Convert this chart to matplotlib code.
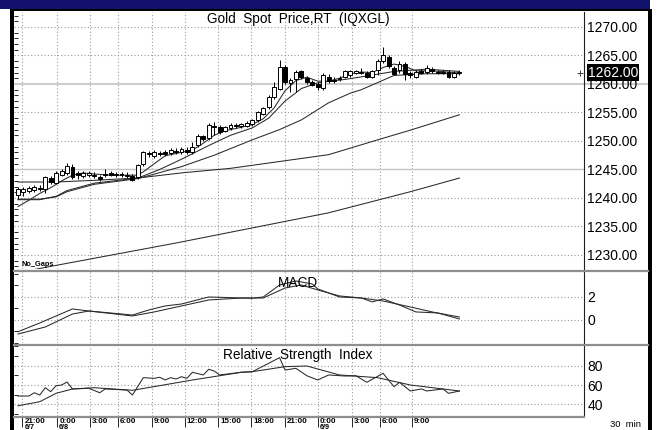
import matplotlib
matplotlib.use('Agg')
import matplotlib.pyplot as plt
from matplotlib.patches import Rectangle
from matplotlib.lines import Line2D
from matplotlib.ticker import MultipleLocator
import numpy as np

W, H = 659, 430
plt.rcParams['font.family'] = ['Liberation Sans', 'DejaVu Sans']

# ---------------- data ----------------
opens = [1240.6, 1241.0, 1241.2, 1241.4, 1241.8, 1241.5, 1243.5, 1242.7, 1244.1, 1244.4,
         1245.5, 1244.3, 1243.9, 1244.0, 1244.1, 1243.7, 1244.0, 1244.3, 1244.0, 1244.2,
         1243.9, 1243.9, 1243.7, 1245.9, 1247.9, 1247.3, 1247.9, 1248.0, 1247.9, 1248.3,
         1248.0, 1248.5, 1248.1, 1249.3, 1250.8, 1250.5, 1252.7, 1252.4, 1251.8, 1252.3,
         1252.8, 1252.6, 1252.7, 1252.9, 1253.6, 1254.8, 1255.9, 1257.7, 1259.2, 1263.0,
         1260.1, 1260.9, 1262.2, 1261.0, 1260.3, 1260.0, 1259.3, 1261.3, 1260.6, 1260.8,
         1261.3, 1261.6, 1262.0, 1262.0, 1262.0, 1261.3, 1262.4, 1264.0, 1264.8, 1262.8,
         1262.4, 1263.5, 1262.0, 1261.3, 1262.3, 1262.1, 1262.6, 1262.1, 1262.0, 1262.1,
         1261.3, 1261.9]
highs = [1242.0, 1241.9, 1242.1, 1242.3, 1242.2, 1243.9, 1243.9, 1244.7, 1245.0, 1246.2,
         1245.9, 1244.7, 1244.8, 1244.7, 1244.5, 1244.1, 1245.1, 1244.7, 1244.6, 1244.6,
         1244.5, 1244.2, 1246.0, 1248.3, 1248.2, 1248.4, 1248.3, 1248.4, 1248.8, 1248.7,
         1248.9, 1248.9, 1249.8, 1251.2, 1251.1, 1253.2, 1253.3, 1252.8, 1252.7, 1253.1,
         1253.1, 1253.2, 1253.5, 1253.9, 1255.3, 1256.0, 1258.1, 1260.3, 1264.2, 1263.4,
         1261.0, 1262.4, 1262.5, 1261.4, 1260.7, 1260.4, 1261.9, 1261.7, 1261.2, 1261.4,
         1262.5, 1262.5, 1262.5, 1262.8, 1262.3, 1262.5, 1264.4, 1266.5, 1265.1, 1263.1,
         1264.0, 1263.8, 1262.3, 1262.4, 1262.6, 1263.3, 1263.0, 1262.4, 1262.5, 1262.4,
         1262.2, 1262.4]
lows = [1239.8, 1240.4, 1240.8, 1241.0, 1241.2, 1240.9, 1242.5, 1242.4, 1243.8, 1244.1,
        1243.3, 1243.4, 1243.5, 1243.6, 1243.5, 1243.0, 1243.6, 1243.8, 1243.6, 1243.7,
        1243.5, 1242.9, 1243.3, 1245.6, 1247.2, 1247.0, 1247.3, 1247.4, 1247.6, 1247.8,
        1247.7, 1247.8, 1247.8, 1249.0, 1250.0, 1250.2, 1251.1, 1251.3, 1251.5, 1252.0,
        1252.3, 1252.3, 1252.4, 1252.6, 1253.3, 1254.5, 1255.6, 1257.4, 1258.9, 1260.0,
        1258.6, 1258.6, 1260.9, 1260.0, 1259.6, 1259.0, 1259.0, 1260.2, 1260.2, 1260.5,
        1261.0, 1261.3, 1261.7, 1261.7, 1261.0, 1261.0, 1261.5, 1263.7, 1262.8, 1261.5,
        1262.0, 1260.7, 1261.0, 1261.0, 1261.7, 1261.8, 1261.9, 1261.7, 1261.7, 1261.0,
        1261.0, 1261.6]
closes = [1241.5, 1241.6, 1241.8, 1242.0, 1241.5, 1243.6, 1242.8, 1244.4, 1244.7, 1245.6,
          1243.6, 1244.1, 1244.3, 1244.3, 1243.8, 1243.3, 1244.2, 1244.1, 1244.2, 1244.0,
          1244.0, 1243.2, 1245.7, 1248.0, 1247.7, 1248.0, 1247.7, 1247.7, 1248.4, 1248.1,
          1248.6, 1248.1, 1249.0, 1250.8, 1250.3, 1252.8, 1252.5, 1251.6, 1252.4, 1252.8,
          1252.6, 1252.9, 1253.2, 1253.6, 1255.0, 1255.7, 1257.8, 1259.5, 1263.0, 1260.3,
          1260.7, 1262.1, 1261.2, 1260.3, 1259.9, 1259.4, 1261.6, 1260.5, 1260.7, 1261.1,
          1262.2, 1262.2, 1262.2, 1262.1, 1261.3, 1262.2, 1264.1, 1265.0, 1263.1, 1261.8,
          1263.5, 1261.8, 1261.5, 1262.1, 1262.0, 1262.8, 1262.2, 1262.0, 1262.1, 1261.2,
          1261.9, 1262.0]

# moving averages: (bar index, price)
ma1_x = [0, 2, 4, 6, 8, 10, 12, 14, 17, 20, 22, 23, 25, 27, 30, 32, 34, 36, 38, 41, 43, 45, 47,
         49, 51, 53, 55, 57, 59, 61, 63, 65, 67, 69, 71, 73, 76, 79, 81]
ma1_y = [1238.5, 1239.6, 1240.8, 1241.8, 1243.0, 1244.0, 1244.4, 1244.2, 1244.0, 1244.0, 1244.0,
         1244.6, 1246.0, 1247.4, 1248.0, 1248.4, 1249.6, 1251.0, 1251.8, 1252.4, 1252.9, 1253.9,
         1255.8, 1258.8, 1260.6, 1261.2, 1260.5, 1260.5, 1261.0, 1261.8, 1262.1, 1262.0, 1262.9,
         1263.5, 1263.1, 1262.3, 1262.3, 1262.1, 1261.9]
ma2_x = [0, 4, 7, 9, 14, 22, 26, 30, 35, 39, 43, 46, 49, 52, 55, 60, 64, 69, 75, 81]
ma2_y = [1239.7, 1239.7, 1240.3, 1241.3, 1242.6, 1243.5, 1245.0, 1246.8, 1249.2, 1251.0,
         1252.3, 1254.0, 1257.0, 1259.2, 1260.2, 1260.8, 1261.4, 1262.2, 1262.6, 1262.2]
ma3_x = [0, 4, 7, 9, 14, 22, 30, 36, 43, 48, 52, 57, 61, 63, 69, 75, 81]
ma3_y = [1239.8, 1239.8, 1240.2, 1241.1, 1242.4, 1243.4, 1245.5, 1247.5, 1250.2, 1252.0,
         1253.7, 1256.7, 1258.4, 1259.0, 1261.5, 1261.8, 1261.8]
ma4_x = [0, 7, 14, 22, 30, 39, 48, 57, 66, 72, 81]
ma4_y = [1242.8, 1242.8, 1243.1, 1243.5, 1244.4, 1245.2, 1246.4, 1247.6, 1250.2, 1251.9, 1254.6]
ma5_x = [0, 6, 29, 57, 72, 81]
ma5_y = [1226.9, 1228.0, 1232.1, 1237.4, 1241.1, 1243.5]

macd_x = [0, 4, 10, 13, 17, 21, 24, 27, 30, 35, 41, 43, 45, 48, 51, 54, 55, 59, 63, 65, 67,
          70, 73, 77, 81]
macd_y = [-1.02, -0.26, 0.96, 0.78, 0.61, 0.43, 0.87, 1.22, 1.39, 2.0, 1.91, 1.89, 2.0, 3.04,
          3.39, 3.13, 2.7, 2.0, 1.91, 1.57, 1.83, 1.3, 0.7, 0.61, 0.09]
sig_x = [0, 5, 10, 13, 21, 25, 30, 35, 41, 45, 49, 52, 55, 59, 63, 67, 72, 76, 81]
sig_y = [-1.22, -0.61, 0.52, 0.78, 0.35, 0.7, 1.22, 1.74, 1.91, 1.91, 2.78, 3.04, 2.61, 2.09,
         1.91, 1.65, 1.13, 0.7, 0.26]

rsi_x = [0, 2, 3, 4, 5, 6, 7, 8, 9, 10, 13, 15, 16, 20, 21, 23, 25, 26, 27, 28, 29, 30, 31,
         32, 34, 35, 36, 37, 41, 43, 48, 49, 51, 53, 55, 57, 60, 62, 64, 67, 69, 70, 72, 74,
         75, 78, 79, 81]
rsi_y = [48.6, 48.6, 52.0, 49.6, 57.2, 53.1, 59.3, 60.0, 63.1, 55.9, 56.6, 52.0, 55.9, 54.8,
         49.6, 67.6, 66.9, 68.0, 65.2, 67.6, 66.2, 68.6, 66.9, 73.2, 70.4, 76.3, 74.5, 70.4,
         73.2, 73.8, 88.3, 75.5, 77.3, 69.6, 65.2, 70.4, 69.3, 69.6, 62.8, 72.1, 58.2, 62.8,
         53.8, 55.9, 53.8, 55.9, 51.4, 53.8]
rsis_x = [0, 4, 7, 10, 14, 21, 26, 32, 37, 41, 43, 49, 53, 55, 59, 66, 72, 81]
rsis_y = [38.5, 42.7, 51.4, 55.9, 57.2, 54.5, 59.3, 65.2, 69.6, 73.2, 73.8, 79.0, 79.7, 76.6,
          70.4, 67.6, 60.0, 53.8]

tick_pos = [0.8, 7.2, 13.2, 18.3, 24.6, 30.6, 36.7, 42.8, 49.0, 55.0, 61.3, 66.4, 72.3]
tick_lbl = ['21:00', '0:00', '3:00', '6:00', '9:00', '12:00', '15:00', '18:00', '21:00',
            '0:00', '3:00', '6:00', '9:00']
date_pos = [0.8, 7.2, 55.0]
date_lbl = ['6/7', '6/8', '6/9']

price_ticks = [1230, 1235, 1240, 1245, 1250, 1255, 1260, 1265, 1270]
macd_ticks = [0, 2]
rsi_ticks = [40, 60, 80]
last_price = 1262.00

# ---------------- figure ----------------
fig = plt.figure(figsize=(W / 100, H / 100), dpi=100)
fig.patch.set_facecolor('white')


def px_axes(x0, y0, x1, y1, **kw):
    return fig.add_axes([x0 / W, 1 - y1 / H, (x1 - x0) / W, (y1 - y0) / H], **kw)


main = px_axes(14, 12, 584, 269)
macd = px_axes(14, 272, 584, 343)
rsi = px_axes(14, 346, 584, 416)

XL = (-0.73, 103.86)
grid_kw = dict(color='#9a9a9a', lw=0.8, ls=(0, (1, 2)), zorder=0)
line_kw = dict(color='#2a2a2a', lw=0.75, zorder=3)

for ax in (main, macd, rsi):
    ax.set_xlim(*XL)
    for s in ('top', 'left', 'bottom'):
        ax.spines[s].set_visible(False)
    ax.spines['right'].set_color('#202020')
    ax.spines['right'].set_linewidth(0.8)
    ax.yaxis.tick_right()
    ax.tick_params(axis='y', which='major', right=True, left=False, length=0, pad=2.5,
                   labelsize=10, labelcolor='black')
    ax.tick_params(axis='y', which='minor', left=True, right=False, direction='in',
                   length=3, width=0.6, color='black')
    for xp in tick_pos:
        ax.axvline(xp, **grid_kw)

# main panel
main.set_ylim(1227.54, 1272.63)
main.set_yticks(price_ticks)
main.set_yticklabels([f'{v:.2f}' for v in price_ticks])
main.yaxis.set_minor_locator(MultipleLocator(1))
main.set_xticks([])
for v in price_ticks:
    if v == 1260:
        main.axhline(v, xmin=0, xmax=(648 - 14) / 570, color='#c8c8c8', lw=1.3, zorder=0,
                     clip_on=False)
    elif v == 1245:
        main.axhline(v, color='#c4c4c4', lw=1.0, zorder=0)
    else:
        main.axhline(v, **grid_kw)

k = np.arange(len(opens))
o = np.array(opens); c = np.array(closes)
main.vlines(k, lows, highs, color='black', lw=0.7, zorder=4)
body_bottom = np.minimum(o, c)
body_h = np.maximum(np.abs(c - o), 0.12)
fills = ['white' if cc >= oo else 'black' for oo, cc in zip(o, c)]
main.bar(k, body_h, bottom=body_bottom, width=0.72, color=fills, edgecolor='black',
         linewidth=0.7, zorder=5)

for xs, ys in ((ma1_x, ma1_y), (ma2_x, ma2_y), (ma3_x, ma3_y), (ma4_x, ma4_y), (ma5_x, ma5_y)):
    main.plot(xs, ys, **line_kw)

main.annotate(f'{last_price:.2f}', xy=(1, last_price), xycoords=('axes fraction', 'data'),
              xytext=(4, 0), textcoords='offset pixels', ha='left', va='center',
              color='white', fontsize=10, zorder=20, annotation_clip=False,
              bbox=dict(boxstyle='square,pad=0.08', fc='black', ec='none'))
main.plot([0.9925], [last_price], marker='+', ms=5, mew=0.7, color='#404040',
          transform=main.get_yaxis_transform(), clip_on=False, zorder=6)

# MACD panel
macd.set_ylim(-2.0, 4.17)
macd.set_yticks(macd_ticks)
macd.set_yticklabels([str(v) for v in macd_ticks])
macd.yaxis.set_minor_locator(MultipleLocator(1))
macd.set_xticks([])
for v in macd_ticks:
    macd.axhline(v, **grid_kw)
macd.plot(macd_x, macd_y, **line_kw)
macd.plot(sig_x, sig_y, **line_kw)

# RSI panel
rsi.set_ylim(27.9, 100.4)
rsi.set_yticks(rsi_ticks)
rsi.set_yticklabels([str(v) for v in rsi_ticks])
rsi.yaxis.set_minor_locator(MultipleLocator(10))
for v in rsi_ticks:
    rsi.axhline(v, **grid_kw)
rsi.plot(rsi_x, rsi_y, **line_kw)
rsi.plot(rsis_x, rsis_y, **line_kw)
rsi.set_xticks(tick_pos)
rsi.set_xticklabels([])
rsi.tick_params(axis='x', direction='out', length=8, width=0.6, color='black', bottom=True)
lbl_font = dict(fontsize=5.8, fontweight='bold',
                family=['Liberation Sans Narrow', 'Liberation Sans'])
for xp, lb in zip(tick_pos, tick_lbl):
    rsi.annotate(lb, xy=(xp, 0), xycoords=('data', 'axes fraction'), xytext=(2, -5.3),
                 textcoords='offset pixels', ha='left', va='center', annotation_clip=False,
                 **lbl_font)
for xp, lb in zip(date_pos, date_lbl):
    rsi.annotate(lb, xy=(xp, 0), xycoords=('data', 'axes fraction'), xytext=(2, -11.2),
                 textcoords='offset pixels', ha='left', va='center', annotation_clip=False,
                 fontsize=5.2, fontweight='bold',
                 family=['Liberation Sans Narrow', 'Liberation Sans'])

# ---------------- overlay (frame, separators, titles) ----------------
ov = fig.add_axes([0, 0, 1, 1], zorder=10)
ov.set_xlim(0, W)
ov.set_ylim(H, 0)
ov.axis('off')

ov.add_patch(Rectangle((0, 0), 650, 9, color='#11116c', lw=0))
ov.add_patch(Rectangle((10, 9), 642, 2, color='black', lw=0))
ov.add_patch(Rectangle((10, 9), 3.5, 421, color='black', lw=0))
ov.add_patch(Rectangle((648, 9), 4, 421, color='black', lw=0))
for yy, x1 in ((270.5, 648), (344.5, 648), (416.8, 584)):
    ov.add_line(Line2D([13.5, x1], [yy, yy], color='#8e8e8e', lw=1.6))

ov.text(298.5, 23.5, 'Gold  Spot  Price,RT  (IQXGL)', ha='center', va='baseline', fontsize=9.8)
ov.text(298, 287, 'MACD', ha='center', va='baseline', fontsize=9.8)
ov.text(298, 358.5, 'Relative  Strength  Index', ha='center', va='baseline', fontsize=9.8)
ov.text(22, 266.5, 'No_Gaps', ha='left', va='baseline', fontsize=5.3, fontweight='bold')
ov.text(625, 424.5, '30  min', ha='center', va='center', fontsize=6.8)

fig.savefig('out.png', dpi=100, facecolor='white')
